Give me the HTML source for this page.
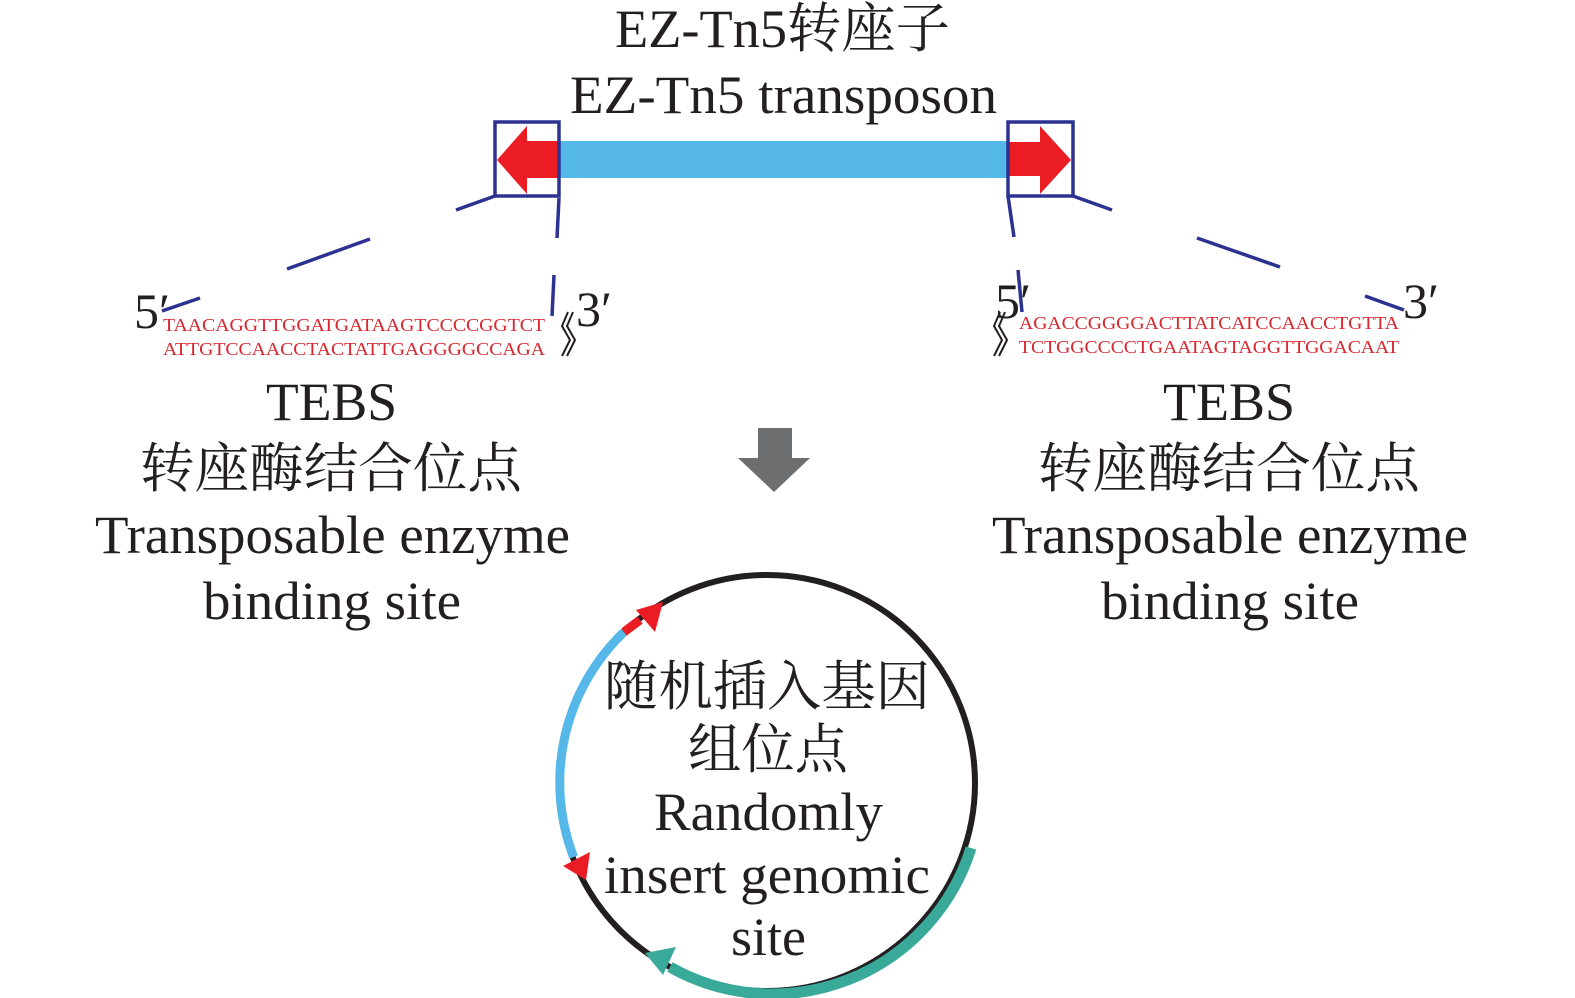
<!DOCTYPE html>
<html><head><meta charset="utf-8"><style>
html,body{margin:0;padding:0;background:#fff;}
svg{display:block;}
.t{font-family:"Liberation Serif","Noto Serif CJK SC",serif;fill:#231f20;}
.s{font-family:"Liberation Serif",serif;fill:#d7262e;font-size:18px;}
</style></head><body>
<svg width="1575" height="998" viewBox="0 0 1575 998" xmlns="http://www.w3.org/2000/svg">
<g class="t" font-size="54" lengthAdjust="spacingAndGlyphs">
<text x="615" y="47" textLength="335" lengthAdjust="spacingAndGlyphs">EZ-Tn5转座子</text>
<text x="570" y="113" textLength="427" lengthAdjust="spacingAndGlyphs">EZ-Tn5 transposon</text>
</g>
<rect x="559" y="141" width="449" height="37" fill="#55b8e8"/>
<polygon points="559,141 527,141 527,126 497,160 527,194 527,178 559,178" fill="#ec1c24"/>
<polygon points="1008,142 1040,142 1040,126 1071,160 1040,194 1040,176 1008,176" fill="#ec1c24"/>
<g stroke="#2b3291" stroke-width="3.5" fill="none">
<rect x="495" y="122" width="64" height="74"/>
<rect x="1008" y="122" width="65" height="74"/>
<line x1="495" y1="196" x2="456" y2="210"/>
<line x1="370" y1="239" x2="287" y2="269"/>
<line x1="200" y1="298" x2="162" y2="311"/>
<line x1="559" y1="198" x2="557" y2="238"/>
<line x1="554" y1="275" x2="552" y2="316"/>
<line x1="1073" y1="196" x2="1112" y2="210"/>
<line x1="1197" y1="238" x2="1280" y2="267"/>
<line x1="1365" y1="296" x2="1404" y2="310"/>
<line x1="1008" y1="196" x2="1014" y2="237"/>
<line x1="1018" y1="270" x2="1022" y2="312"/>
</g>
<text class="t" x="134" y="328" font-size="50">5′</text>
<text class="t" x="576" y="326" font-size="50">3′</text>
<text class="t" x="995" y="318" font-size="50">5′</text>
<text class="t" x="1403" y="318" font-size="50">3′</text>
<g stroke="#231f20" stroke-width="2" fill="none">
<path d="M568,312 L562,326 L570,340 L562,356"/><path d="M573,312 L567,326 L575,340 L567,356"/>
<path d="M1000,312 L994,326 L1002,340 L994,356"/><path d="M1005,312 L999,326 L1007,340 L999,356"/>
</g>
<text class="s" x="163" y="331" textLength="382" lengthAdjust="spacingAndGlyphs">TAACAGGTTGGATGATAAGTCCCCGGTCT</text>
<text class="s" x="163" y="355" textLength="382" lengthAdjust="spacingAndGlyphs">ATTGTCCAACCTACTATTGAGGGGCCAGA</text>
<text class="s" x="1019" y="329" textLength="380" lengthAdjust="spacingAndGlyphs">AGACCGGGGACTTATCATCCAACCTGTTA</text>
<text class="s" x="1019" y="353" textLength="380" lengthAdjust="spacingAndGlyphs">TCTGGCCCCTGAATAGTAGGTTGGACAAT</text>
<g class="t" font-size="54">
<text x="266" y="420" textLength="131" lengthAdjust="spacingAndGlyphs">TEBS</text>
<text x="140" y="487" textLength="382" lengthAdjust="spacingAndGlyphs">转座酶结合位点</text>
<text x="95" y="553" textLength="475" lengthAdjust="spacingAndGlyphs">Transposable enzyme</text>
<text x="203" y="619" textLength="258" lengthAdjust="spacingAndGlyphs">binding site</text>
<text x="1163" y="420" textLength="132" lengthAdjust="spacingAndGlyphs">TEBS</text>
<text x="1038" y="487" textLength="382" lengthAdjust="spacingAndGlyphs">转座酶结合位点</text>
<text x="992" y="553" textLength="476" lengthAdjust="spacingAndGlyphs">Transposable enzyme</text>
<text x="1101" y="619" textLength="258" lengthAdjust="spacingAndGlyphs">binding site</text>
</g>
<polygon points="758,428 792,428 792,458 810,458 774,492 738,458 758,458" fill="#6d6e70"/>
<circle cx="767" cy="783" r="208" fill="none" stroke="#231f20" stroke-width="6"/>
<path d="M624,632 A208,208 0 0 0 573.6,857" fill="none" stroke="#55b8e8" stroke-width="9"/>
<path d="M640,620 L624,632" stroke="#ec1c24" stroke-width="9"/>
<polygon points="663,602 636,610 655,632" fill="#ec1c24"/>
<polygon points="563,866 590,852 586,880" fill="#ec1c24"/>
<path d="M971,848 A208,208 0 0 1 670,967" fill="none" stroke="#39a99a" stroke-width="11"/>
<polygon points="645,953 676,947 663,975" fill="#39a99a"/>
<g class="t" font-size="54">
<text x="604" y="705" textLength="326" lengthAdjust="spacingAndGlyphs">随机插入基因</text>
<text x="688" y="768" textLength="160" lengthAdjust="spacingAndGlyphs">组位点</text>
<text x="654" y="830" textLength="229" lengthAdjust="spacingAndGlyphs">Randomly</text>
<text x="604" y="893" textLength="326" lengthAdjust="spacingAndGlyphs">insert genomic</text>
<text x="731" y="955" textLength="75" lengthAdjust="spacingAndGlyphs">site</text>
</g>
</svg>
</body></html>
